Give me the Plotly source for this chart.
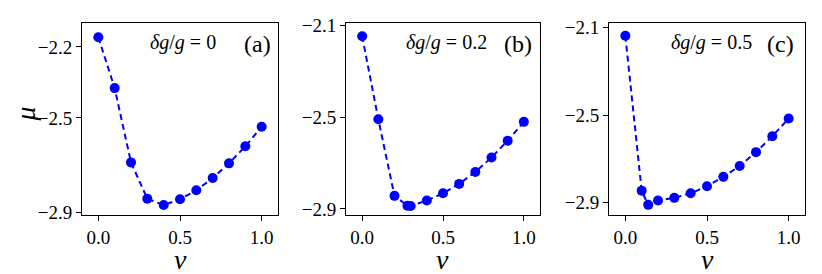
import plotly.graph_objects as go

v_a = [0.0, 0.1, 0.2, 0.3, 0.4, 0.5, 0.6, 0.7, 0.8, 0.9, 1.0]
mu_a = [-2.159, -2.374, -2.688, -2.842, -2.868, -2.844, -2.806, -2.754, -2.692, -2.620, -2.537]

v_b = [0.0, 0.1, 0.2, 0.28, 0.3, 0.4, 0.5, 0.6, 0.7, 0.8, 0.9, 1.0]
mu_b = [-2.148, -2.510, -2.843, -2.886, -2.887, -2.863, -2.832, -2.791, -2.739, -2.676, -2.603, -2.521]

v_c = [0.0, 0.1, 0.14, 0.2, 0.3, 0.4, 0.5, 0.6, 0.7, 0.8, 0.9, 1.0]
mu_c = [-2.137, -2.845, -2.910, -2.890, -2.878, -2.857, -2.825, -2.782, -2.732, -2.669, -2.596, -2.515]

x_ticks = [0.0, 0.5, 1.0]
x_ticktext = ["0.0", "0.5", "1.0"]
y_ticks_a = [-2.2, -2.5, -2.9]
y_ticks_bc = [-2.1, -2.5, -2.9]
panel_labels = ["(a)", "(b)", "(c)"]
dg_labels = ["0", "0.2", "0.5"]

W, H = 822, 274
FONT = "Liberation Serif"
BLUE = "#0000ff"

frames = [(82, 278), (346, 540), (609, 805)]
dg_right = [218, 489, 754]
lab_right = [273, 534, 796]
top_px, bot_px = 16, 220
yranges = [[-2.911, -2.099], [-2.927, -2.091], [-2.957, -2.079]]

fig = go.Figure()
series = [(v_a, mu_a), (v_b, mu_b), (v_c, mu_c)]
for i, (vx, my) in enumerate(series):
    sfx = "" if i == 0 else str(i + 1)
    fig.add_trace(go.Scatter(
        x=vx, y=my, mode="lines+markers",
        line=dict(color=BLUE, width=2, dash="6px,4px"),
        marker=dict(color=BLUE, size=10, line=dict(width=0)),
        xaxis="x" + sfx, yaxis="y" + sfx, showlegend=False,
    ))

def fmt(v):
    return ("−" if v < 0 else "") + f"{abs(v):.1f}"

layout = dict(
    width=W, height=H, margin=dict(l=0, r=0, t=0, b=0),
    paper_bgcolor="white", plot_bgcolor="white",
    font=dict(family=FONT, size=18, color="black"),
)
annotations = []
for i, (l, r) in enumerate(frames):
    sfx = "" if i == 0 else str(i + 1)
    yt = y_ticks_a if i == 0 else y_ticks_bc
    layout["xaxis" + sfx] = dict(
        domain=[l / W, r / W], anchor="y" + sfx, range=[-0.1, 1.1],
        tickvals=x_ticks, ticktext=x_ticktext, ticks="outside", ticklen=5,
        tickcolor="black", showline=True, linecolor="black", linewidth=1,
        mirror=True, showgrid=False, zeroline=False,
        tickfont=dict(family=FONT, size=19, color="black"),
    )
    layout["yaxis" + sfx] = dict(
        domain=[1 - bot_px / H, 1 - top_px / H], anchor="x" + sfx, range=yranges[i],
        tickvals=yt, ticktext=[fmt(t) for t in yt], ticks="outside", ticklen=5,
        tickcolor="black", showline=True, linecolor="black", linewidth=1,
        mirror=True, showgrid=False, zeroline=False,
        tickfont=dict(family=FONT, size=19, color="black"),
    )
    annotations.append(dict(
        xref="paper", yref="paper", x=(l + r) / 2 / W, y=0,
        xanchor="center", yanchor="bottom", yshift=-11, showarrow=False,
        text="<i>v</i>", font=dict(family=FONT, size=28, color="black"),
    ))
    annotations.append(dict(
        xref="paper", yref="paper", x=dg_right[i] / W,
        y=1 - 37 / H, xanchor="right", yanchor="middle", showarrow=False,
        text="<i>δg</i>/<i>g</i> = " + dg_labels[i], font=dict(family=FONT, size=20, color="black"),
    ))
    annotations.append(dict(
        xref="paper", yref="paper", x=lab_right[i] / W, y=1 - 38 / H,
        xanchor="right", yanchor="middle", showarrow=False,
        text=panel_labels[i], font=dict(family=FONT, size=24, color="black"),
    ))
annotations.append(dict(
    xref="paper", yref="paper", x=25 / W, y=1 - 113 / H,
    xanchor="center", yanchor="middle", showarrow=False, textangle=-90,
    text="<i>μ</i>", font=dict(family=FONT, size=28, color="black"),
))
layout["annotations"] = annotations
fig.update_layout(**layout)
fig.write_html("out.html", config={"displayModeBar": False},
               post_script="document.body.style.margin='0';document.body.style.padding='0';")
